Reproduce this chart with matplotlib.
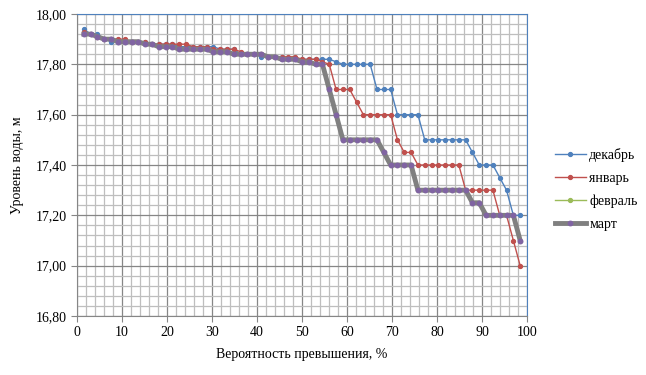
import numpy as np
import matplotlib
matplotlib.use("Agg")
import matplotlib.pyplot as plt
from matplotlib.ticker import MultipleLocator, FuncFormatter

plt.rcParams['font.family'] = ['Liberation Serif', 'DejaVu Serif']

# exceedance probability, %: 65 points, m/(n+1)*100
n = 65
prob = np.arange(1, n + 1) / (n + 1) * 100

dec = [17.94, 17.92, 17.92, 17.90, 17.89, 17.89, 17.89, 17.89, 17.89, 17.89,
       17.88, 17.88, 17.88, 17.88, 17.87, 17.87, 17.87, 17.87, 17.87, 17.87,
       17.86, 17.86, 17.86, 17.84, 17.84, 17.84, 17.83, 17.83, 17.83, 17.83,
       17.82, 17.82, 17.82, 17.82, 17.82, 17.82, 17.82, 17.81,
       17.80, 17.80, 17.80, 17.80, 17.80,
       17.70, 17.70, 17.70,
       17.60, 17.60, 17.60, 17.60,
       17.50, 17.50, 17.50, 17.50, 17.50, 17.50, 17.50,
       17.45, 17.40, 17.40, 17.40, 17.35, 17.30, 17.20, 17.20]

jan = [17.93, 17.92, 17.91, 17.90, 17.90, 17.90, 17.90, 17.89, 17.89, 17.89,
       17.88, 17.88, 17.88, 17.88, 17.88, 17.88, 17.87, 17.87, 17.87, 17.86,
       17.86, 17.86, 17.86, 17.85, 17.84, 17.84, 17.84, 17.83, 17.83, 17.83,
       17.83, 17.83, 17.82, 17.82, 17.82, 17.81, 17.80,
       17.70, 17.70, 17.70, 17.65,
       17.60, 17.60, 17.60, 17.60, 17.60,
       17.50, 17.45, 17.45,
       17.40, 17.40, 17.40, 17.40, 17.40, 17.40, 17.40,
       17.30, 17.30, 17.30, 17.30, 17.30,
       17.20, 17.20, 17.10, 17.00]

mar = [17.92, 17.92, 17.91, 17.90, 17.90, 17.89, 17.89, 17.89, 17.89, 17.88,
       17.88, 17.87, 17.87, 17.87, 17.86, 17.86, 17.86, 17.86, 17.86, 17.85,
       17.85, 17.85, 17.84, 17.84, 17.84, 17.84, 17.84, 17.83, 17.83, 17.82,
       17.82, 17.82, 17.81, 17.81, 17.80, 17.80,
       17.70, 17.60, 17.50, 17.50, 17.50, 17.50, 17.50, 17.50,
       17.45, 17.40, 17.40, 17.40, 17.40,
       17.30, 17.30, 17.30, 17.30, 17.30, 17.30, 17.30, 17.30,
       17.25, 17.25, 17.20, 17.20, 17.20, 17.20, 17.20, 17.10]

feb = list(mar)  # февраль совпадает с мартом и скрыт под ним

fig = plt.figure(figsize=(6.46, 3.75), dpi=100)
ax = fig.add_axes([0.1192, 0.1573, 0.6966, 0.8054])

ax.plot(prob, dec, color='#4F81BD', lw=1, marker='o', ms=2.8, label='декабрь', zorder=3)
ax.plot(prob, jan, color='#C0504D', lw=1, marker='o', ms=2.8, label='январь', zorder=3)
ax.plot(prob, feb, color='#9BBB59', lw=1, marker='o', ms=2.8, label='февраль', zorder=2)
ax.plot(prob, mar, color='#808080', lw=3.5, marker='o', ms=3.2, mfc='#8064A2', mec='#8064A2',
        label='март', zorder=4)

ax.set_xlim(0, 100)
ax.set_ylim(16.8, 18.0)
ax.xaxis.set_major_locator(MultipleLocator(10))
ax.xaxis.set_minor_locator(MultipleLocator(2))
ax.yaxis.set_major_locator(MultipleLocator(0.2))
ax.yaxis.set_minor_locator(MultipleLocator(0.04))
ax.yaxis.set_major_formatter(FuncFormatter(lambda v, p: f"{v:.2f}".replace('.', ',')))

ax.grid(which='major', color='#868686', lw=0.9)
ax.grid(which='minor', color='#BEBEBE', lw=0.9)
ax.set_axisbelow(True)
ax.tick_params(which='major', length=4, color='#868686', labelsize=10)
ax.tick_params(which='minor', length=0)

for s in ['top', 'right']:
    ax.spines[s].set_color('#4F81BD')
for s in ['left', 'bottom']:
    ax.spines[s].set_color('#868686')

ax.set_xlabel('Вероятность превышения, %', fontsize=10, labelpad=6)
ax.set_ylabel('Уровень воды, м', fontsize=10, labelpad=8)

fig.legend(loc='center left', bbox_to_anchor=(0.84, 0.495), frameon=False, fontsize=10,
           handlelength=2.2, labelspacing=0.7, handletextpad=0.25, numpoints=1)

fig.savefig('out.png', dpi=100)
